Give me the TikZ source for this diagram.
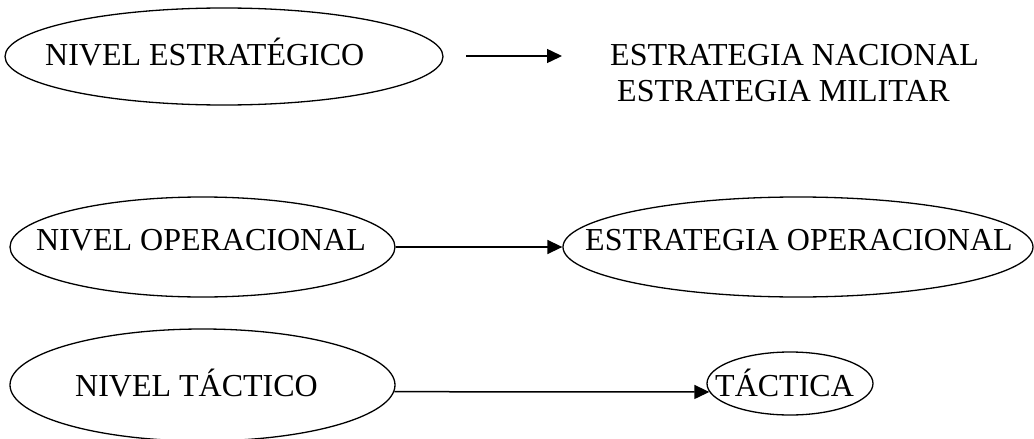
\documentclass[tikz,border=0pt]{standalone}
\usepackage{fontspec}
\setmainfont{Liberation Serif}
\usetikzlibrary{shapes.geometric,arrows.meta}
\begin{document}
\begin{tikzpicture}[x=1pt,y=-1pt,
  oval/.style={draw,ellipse,line width=1.3pt,inner sep=0pt},
  lbl/.style={inner sep=0pt,anchor=base west,font=\fontsize{32}{32}\selectfont},
  arr/.style={line width=1.5pt,-{Triangle[length=15pt,width=14pt]}}]
\useasboundingbox (0,0) rectangle (1034,439);
% ellipses
\node[oval,minimum width=438pt,minimum height=97pt] (e1) at (224,56.5) {};
\node[oval,minimum width=385pt,minimum height=100pt] (e2) at (202.5,247) {};
\node[oval,minimum width=470pt,minimum height=100pt] (e3) at (798,247) {};
\node[oval,minimum width=385pt,minimum height=112pt] (e4) at (202.5,385) {};
\node[oval,minimum width=166pt,minimum height=63pt] (e5) at (790,383.5) {};
% texts
\node[lbl] (t1) at (45,65) {NIVEL ESTRATÉGICO};
\node[lbl] (t6) at (610,65) {ESTRATEGIA NACIONAL};
\node[lbl] (t7) at (617,101) {ESTRATEGIA MILITAR};
\node[lbl] (t2) at (36,250) {NIVEL OPERACIONAL};
\node[lbl] (t3) at (585,250) {ESTRATEGIA OPERACIONAL};
\node[lbl] (t4) at (75,396) {NIVEL TÁCTICO};
\node[lbl] (t5) at (715,396) {TÁCTICA};
% arrows
\coordinate (a1s) at (466,56);
\coordinate (a1e) at (562,56);
\draw[arr] (a1s) -- (a1e);
\draw[arr] (e2.east) -- (e3.west);
\draw[arr] (e4.-2) -- (e5.186);
\end{tikzpicture}
\end{document}
